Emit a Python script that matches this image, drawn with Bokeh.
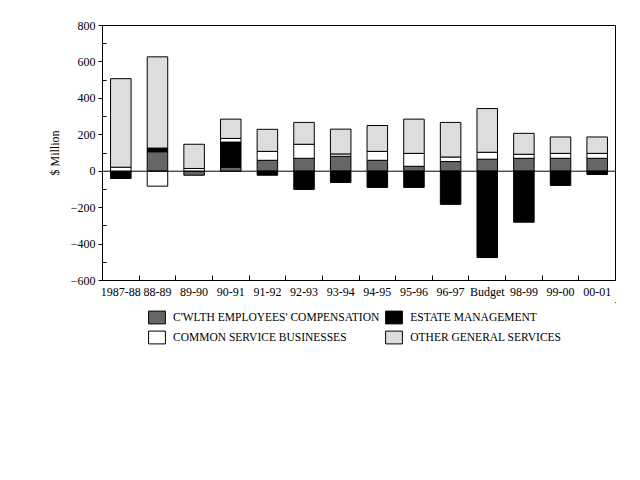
import numpy as np
from bokeh.plotting import figure
from bokeh.layouts import column
from bokeh.models import ColumnDataSource, FixedTicker, Span, Legend, LegendItem
from bokeh.embed import file_html
from bokeh.resources import INLINE

years = ['1987-88', '88-89', '89-90', '90-91', '91-92', '92-93', '93-94',
         '94-95', '95-96', '96-97', 'Budget', '98-99', '99-00', '00-01']

# $ million
compensation = [0, 107, -22, 22, 60, 71, 82, 60, 27, 53, 66, 71, 71, 71]
estate = [-40, 20, 0, 138, -22, -100, -62, -89, -89, -182, -474, -280, -78, -18]
common = [22, -82, 15, 20, 49, 77, 13, 49, 71, 25, 38, 22, 27, 27]
other = [486, 501, 133, 106, 121, 120, 136, 142, 188, 190, 240, 115, 90, 90]

series = [("C'WLTH EMPLOYEES' COMPENSATION", compensation, "#666666"),
          ("ESTATE MANAGEMENT", estate, "#000000"),
          ("COMMON SERVICE BUSINESSES", common, "#ffffff"),
          ("OTHER GENERAL SERVICES", other, "#dddddd")]

FONT = "Liberation Serif"

p = figure(frame_width=513, frame_height=255,
           x_range=(-0.5, len(years) - 0.5), y_range=(-600, 800),
           output_backend="svg", toolbar_location=None,
           min_border_left=102, min_border_top=25, min_border_right=25,
           min_border_bottom=22)
p.grid.visible = False
p.outline_line_color = "black"
p.outline_line_width = 1

x = np.arange(len(years))
pos_base = np.zeros(len(years))
neg_base = np.zeros(len(years))
for name, vals, col in series:
    v = np.array(vals, dtype=float)
    bottom = np.where(v >= 0, pos_base, neg_base + v)
    top = np.where(v >= 0, pos_base + v, neg_base)
    pos_base = pos_base + np.clip(v, 0, None)
    neg_base = neg_base + np.clip(v, None, 0)
    src = ColumnDataSource(dict(x=x, bottom=bottom, top=top))
    p.vbar(x='x', bottom='bottom', top='top', width=0.56, source=src,
           fill_color=col, line_color="black", line_width=1)

p.add_layout(Span(location=0, dimension="width", line_color="black", line_width=1))

# x axis: labels at centres, ticks at category boundaries
p.xaxis.ticker = FixedTicker(ticks=list(range(len(years))),
                             minor_ticks=[i + 0.5 for i in range(len(years) - 1)])
p.xaxis.major_label_overrides = {i: y for i, y in enumerate(years)}
p.xaxis.major_tick_in = 0
p.xaxis.major_tick_out = 0
p.xaxis.minor_tick_in = 5
p.xaxis.minor_tick_out = 0
p.xaxis.major_label_standoff = 4

p.yaxis.ticker = FixedTicker(ticks=list(range(-600, 801, 200)),
                             minor_ticks=list(range(-500, 800, 200)))
p.yaxis.major_tick_in = 0
p.yaxis.major_tick_out = 4
p.yaxis.minor_tick_in = 4
p.yaxis.minor_tick_out = 0
p.yaxis.major_label_standoff = 3
p.yaxis.axis_label = "$ Million"
p.yaxis.axis_label_text_font_style = "normal"
p.yaxis.axis_label_standoff = 6

for ax in (p.xaxis[0], p.yaxis[0]):
    ax.major_label_text_font = FONT
    ax.major_label_text_font_size = "12px"
    ax.axis_label_text_font = FONT
    ax.axis_label_text_font_size = "12px"
    ax.axis_label_text_color = "black"
    ax.axis_line_color = "black"
    ax.major_tick_line_color = "black"
    ax.minor_tick_line_color = "black"
    ax.major_label_text_color = "black"

# legend lives in its own strip under the chart (frame is aligned with p's)
lg = figure(width=640, height=70, x_range=(0, 1), y_range=(0, 1),
            x_axis_type=None, y_axis_type=None,
            output_backend="svg", toolbar_location=None, min_border=0)
lg.grid.visible = False
lg.outline_line_color = None
items = {}
for name, vals, col in series:
    # stand-in bar well outside both ranges, only used for the swatch
    r = lg.vbar(x=[50], bottom=[50], top=[51], width=0.5, fill_color=col,
                line_color="black", line_width=1)
    items[name] = LegendItem(label=name, renderers=[r])

# filled column by column: comp / common, estate / other
order = [series[0][0], series[2][0], series[1][0], series[3][0]]
legend = Legend(items=[items[n] for n in order], ncols=2, location=(44, 27),
                label_text_font=FONT, label_text_font_size="11.5px",
                label_text_color="black",
                glyph_width=21, glyph_height=16, label_standoff=6,
                spacing=4, border_line_color=None, background_fill_alpha=0,
                padding=0, margin=0)
lg.add_layout(legend)

open("out.html", "w").write(file_html(column(p, lg, spacing=0), INLINE))
